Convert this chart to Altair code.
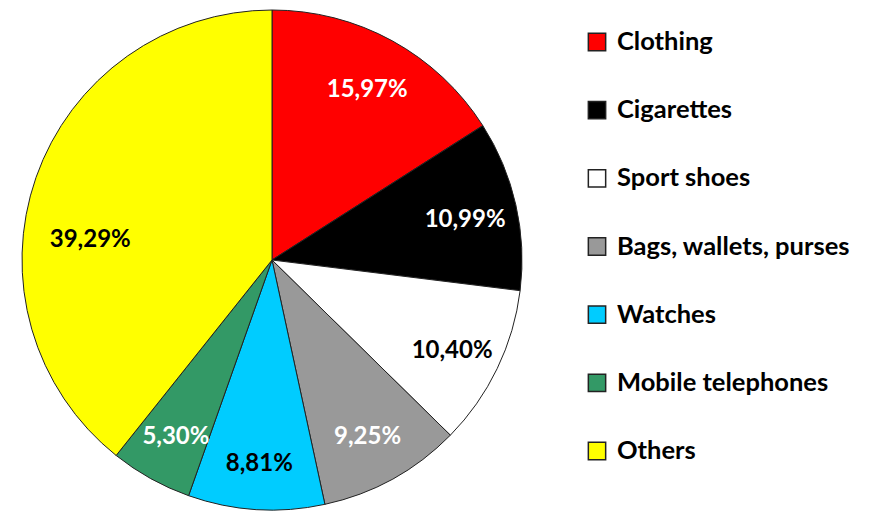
import altair as alt
import pandas as pd

categories = ["Clothing", "Cigarettes", "Sport shoes", "Bags, wallets, purses",
              "Watches", "Mobile telephones", "Others"]
values = [15.97, 10.99, 10.40, 9.25, 8.81, 5.30, 39.29]
colors = ["#FF0000", "#000000", "#FFFFFF", "#999999", "#00CCFF", "#339966", "#FFFF00"]
white_labels = ["Clothing", "Cigarettes", "Bags, wallets, purses", "Mobile telephones"]
black_labels = ["Sport shoes", "Watches"]
big_label = ["Others"]

df = pd.DataFrame({
    "category": categories,
    "value": values,
    "idx": list(range(len(categories))),
    "label": [f"{v:.2f}".replace(".", ",") + "%" for v in values],
})

CX, CY, R = 264, 252, 250
FONT = "Lato"

base = alt.Chart(df)

color = alt.Color("category:N", scale=alt.Scale(domain=categories, range=colors), legend=None)

arcs = base.mark_arc(stroke="#222222", strokeWidth=1).encode(
    theta=alt.Theta("value:Q", stack=True),
    order=alt.Order("idx:Q"),
    color=color,
    x=alt.value(CX), y=alt.value(CY), radius=alt.value(R),
)

def pie_text(fill, cats, r, dx=0, dy=0):
    return base.mark_text(font=FONT, fontWeight="bold", fontSize=24, fill=fill,
                          dx=dx, dy=dy).encode(
        theta=alt.Theta("value:Q", stack=True),
        order=alt.Order("idx:Q"),
        text="label:N",
        x=alt.value(CX), y=alt.value(CY), radius=alt.value(r),
        opacity=alt.condition(alt.FieldOneOfPredicate(field="category", oneOf=cats),
                              alt.value(1), alt.value(0)),
    )

white_text = pie_text("white", white_labels, 198, dy=4)
black_text = pie_text("black", black_labels, 200, dy=4)
others_text = pie_text("black", big_label, 183, dx=-9, dy=40)

yscale = alt.Scale(type="point", domain=categories, range=[34, 443], padding=0)

leg_sq = base.mark_square(size=300, stroke="#222222", strokeWidth=1.5, opacity=1).encode(
    x=alt.value(589),
    y=alt.Y("category:N", scale=yscale, axis=None),
    color=color,
)
leg_txt = base.mark_text(font=FONT, fontWeight="bold", fontSize=25.5, align="left",
                         baseline="middle", color="black").encode(
    x=alt.value(609),
    y=alt.Y("category:N", scale=yscale, axis=None),
    text="category:N",
)

chart = alt.layer(arcs, white_text, black_text, others_text, leg_sq, leg_txt).properties(
    width=856, height=504, padding=0, autosize=alt.AutoSizeParams(type="none")
).configure_view(stroke=None)

chart.save("out.html", embed_options={"renderer": "svg", "actions": False})
